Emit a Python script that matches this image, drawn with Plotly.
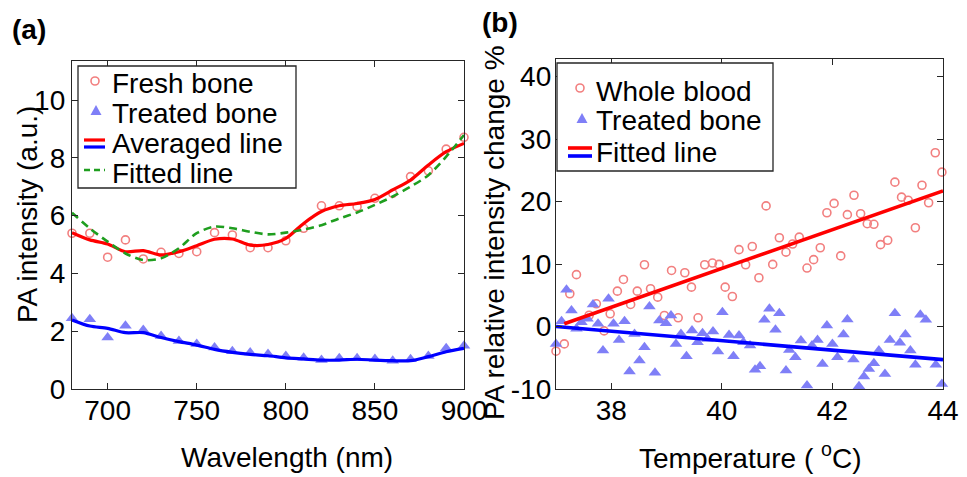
import plotly.graph_objects as go

# ---------------- Data: panel (a) ----------------
wavelength = [680, 690, 700, 710, 720, 730, 740, 750, 760, 770, 780, 790,
              800, 810, 820, 830, 840, 850, 860, 870, 880, 890, 900]
fresh_bone = [5.39, 5.39, 4.56, 5.16, 4.50, 4.73, 4.69, 4.75, 5.41, 5.33, 4.89, 4.89,
              5.13, 5.56, 6.34, 6.34, 6.31, 6.60, 6.77, 7.35, 7.55, 8.30, 8.71]
treated_bone_a = [2.45, 2.41, 1.78, 2.19, 2.04, 1.83, 1.66, 1.56, 1.44, 1.31, 1.26, 1.21,
                  1.14, 1.08, 1.00, 1.06, 1.06, 1.04, 0.98, 1.03, 1.14, 1.41, 1.50]
averaged_fresh = [5.41, 5.16, 5.02, 4.75, 4.79, 4.64, 4.75, 4.96, 5.18, 5.19, 4.98, 5.00,
                  5.21, 5.73, 6.14, 6.34, 6.42, 6.56, 6.89, 7.23, 7.75, 8.21, 8.50]
averaged_treated = [2.39, 2.18, 2.10, 1.95, 1.95, 1.78, 1.64, 1.52, 1.37, 1.27, 1.20, 1.15,
                    1.08, 1.04, 1.00, 1.00, 1.03, 1.00, 0.98, 0.98, 1.12, 1.29, 1.41]
fitted_fresh = [6.10, 5.56, 5.10, 4.69, 4.46, 4.52, 4.87, 5.39, 5.62, 5.56, 5.44, 5.35,
                5.41, 5.52, 5.67, 5.90, 6.11, 6.37, 6.66, 7.00, 7.40, 8.04, 8.79]
x_ticks_a = [700, 750, 800, 850, 900]
y_ticks_a = [0, 2, 4, 6, 8, 10]

# ---------------- Data: panel (b) ----------------
blood_temp = [37.00, 37.15, 37.25, 37.37, 37.60, 37.73, 37.87, 37.98, 38.11, 38.22,
              38.35, 38.47, 38.60, 38.71, 38.84, 38.96, 39.09, 39.21, 39.33, 39.45,
              39.57, 39.69, 39.83, 39.95, 40.06, 40.19, 40.31, 40.43, 40.55, 40.67,
              40.80, 40.92, 41.04, 41.16, 41.28, 41.40, 41.54, 41.66, 41.78, 41.90,
              42.03, 42.15, 42.27, 42.39, 42.51, 42.63, 42.75, 42.87, 43.00, 43.13,
              43.25, 43.37, 43.50, 43.62, 43.74, 43.86, 43.98]
blood_change = [-3.95, -2.78, 5.24, 8.30, 1.80, 3.63, -0.70, 2.03, 5.66, 7.53,
                3.53, 5.66, 9.88, 6.04, 4.70, 1.76, 8.97, 1.39, 8.60, 6.30,
                1.39, 9.88, 10.15, 9.94, 6.30, 4.80, 12.30, 9.88, 12.80, 7.80,
                19.30, 9.94, 14.20, 11.90, 13.20, 14.30, 9.35, 10.70, 12.60, 18.20,
                19.70, 11.30, 17.90, 21.00, 18.05, 16.45, 16.35, 13.10, 13.80, 23.10,
                20.70, 20.20, 15.80, 22.60, 19.80, 27.80, 24.70]
bone_temp = [37.00, 37.10, 37.19, 37.28, 37.37, 37.46, 37.57, 37.67, 37.76, 37.85,
             37.95, 38.04, 38.14, 38.24, 38.33, 38.42, 38.51, 38.60, 38.69, 38.79,
             38.87, 38.99, 39.08, 39.17, 39.26, 39.36, 39.46, 39.56, 39.65, 39.74,
             39.84, 39.93, 40.01, 40.13, 40.21, 40.31, 40.39, 40.51, 40.60, 40.69,
             40.77, 40.86, 40.97, 41.04, 41.16, 41.22, 41.33, 41.43, 41.54, 41.63,
             41.73, 41.82, 41.90, 42.00, 42.09, 42.20, 42.27, 42.38, 42.48, 42.57,
             42.66, 42.75, 42.84, 42.95, 43.04, 43.13, 43.22, 43.32, 43.41, 43.50,
             43.59, 43.69, 43.87, 43.98]
bone_change = [-2.78, 0.85, 5.90, 2.56, -0.37, 0.69, 1.23, 3.53, 0.43, -3.85,
               4.43, 0.43, -2.14, 0.85, -7.20, -1.18, -5.45, -3.30, 3.20, -7.40,
               0.96, 0.53, 1.76, -2.78, -1.18, -4.75, -0.64, -2.50, -1.07, -1.98,
               -0.80, -4.00, 2.30, -1.34, -4.75, -1.44, -2.50, -3.04, -6.90, -6.36,
               1.07, 2.83, -0.53, 2.14, -7.05, -3.74, -4.90, -2.24, -9.45, -3.04,
               -2.14, -5.98, 0.16, -2.78, -4.90, -1.28, 1.12, -5.29, -9.56, -8.00,
               -6.78, -5.88, -3.85, -7.60, -2.14, 2.14, -2.60, -1.28, -3.85, -6.10,
               1.87, 1.07, -6.10, -9.20]
fit_blood_temp = [37.15, 44.0]
fit_blood_change = [0.45, 21.7]
fit_bone_temp = [37.0, 44.0]
fit_bone_change = [0.0, -5.3]
x_ticks_b = [38, 40, 42, 44]
y_ticks_b = [-10, 0, 10, 20, 30, 40]
y_ticklabels_b = ["-10", "0", "10", "20", "30", "40"]

# ---------------- Styles ----------------
W, H = 967, 477
FONT = "Liberation Sans, Arial, sans-serif"
FS = 28
C_CIRCLE = "#f27f7f"
C_TRI = "#7f7ff7"
C_RED = "#ff0000"
C_BLUE = "#0000ff"
C_GREEN = "#1f9e1f"
AX = "#262626"


def px(x):
    return x / W


def py(y):
    return 1 - y / H


fig = go.Figure()

# panel (a)
fig.add_trace(go.Scatter(x=wavelength, y=fresh_bone, mode="markers", name="Fresh bone",
                         marker=dict(symbol="circle-open", size=8, color=C_CIRCLE,
                                     line=dict(width=1.6, color=C_CIRCLE)),
                         cliponaxis=False, xaxis="x", yaxis="y"))
fig.add_trace(go.Scatter(x=wavelength, y=treated_bone_a, mode="markers", name="Treated bone",
                         marker=dict(symbol="triangle-up", size=11, color=C_TRI),
                         cliponaxis=False, xaxis="x", yaxis="y"))
fig.add_trace(go.Scatter(x=wavelength, y=averaged_fresh, mode="lines", name="Averaged line",
                         line=dict(color=C_RED, width=3.2, shape="spline", smoothing=0.8),
                         xaxis="x", yaxis="y"))
fig.add_trace(go.Scatter(x=wavelength, y=averaged_treated, mode="lines", name="Averaged line",
                         line=dict(color=C_BLUE, width=3.2, shape="spline", smoothing=0.8),
                         xaxis="x", yaxis="y"))
fig.add_trace(go.Scatter(x=wavelength, y=fitted_fresh, mode="lines", name="Fitted line",
                         line=dict(color=C_GREEN, width=2.6, dash="8px,5px", shape="spline",
                                   smoothing=0.8),
                         xaxis="x", yaxis="y"))

# panel (b)
fig.add_trace(go.Scatter(x=blood_temp, y=blood_change, mode="markers", name="Whole blood",
                         marker=dict(symbol="circle-open", size=8, color=C_CIRCLE,
                                     line=dict(width=1.6, color=C_CIRCLE)),
                         cliponaxis=False, xaxis="x2", yaxis="y2"))
fig.add_trace(go.Scatter(x=bone_temp, y=bone_change, mode="markers", name="Treated bone",
                         marker=dict(symbol="triangle-up", size=11, color=C_TRI),
                         cliponaxis=False, xaxis="x2", yaxis="y2"))
fig.add_trace(go.Scatter(x=fit_blood_temp, y=fit_blood_change, mode="lines", name="Fitted line",
                         line=dict(color=C_RED, width=3.6), xaxis="x2", yaxis="y2"))
fig.add_trace(go.Scatter(x=fit_bone_temp, y=fit_bone_change, mode="lines", name="Fitted line",
                         line=dict(color=C_BLUE, width=3.6), xaxis="x2", yaxis="y2"))

axis_common = dict(showgrid=False, zeroline=False, showline=True, linecolor=AX, linewidth=1.3,
                   mirror="ticks", ticks="inside", ticklen=6, tickwidth=1.2, tickcolor=AX,
                   tickfont=dict(family=FONT, size=FS, color="black"))

fig.update_layout(
    width=W, height=H,
    margin=dict(l=0, r=0, t=0, b=0, autoexpand=False),
    paper_bgcolor="white", plot_bgcolor="white",
    showlegend=False,
    xaxis=dict(domain=[px(72), px(464)], range=[680, 900], tickvals=x_ticks_a,
               anchor="y", ticklabelstandoff=-4, **axis_common),
    yaxis=dict(domain=[py(389), py(61)], range=[0, 11.35], tickvals=y_ticks_a,
               anchor="x", **axis_common),
    xaxis2=dict(domain=[px(556), px(943)], range=[37, 44], tickvals=x_ticks_b,
                anchor="y2", ticklabelstandoff=-4, **axis_common),
    yaxis2=dict(domain=[py(389), py(59)], range=[-10, 42.8], tickvals=y_ticks_b,
                ticktext=y_ticklabels_b, anchor="x2", ticklabelstandoff=-2, **axis_common),
)

shapes = []
annotations = []


def text(x, y, s, size=FS, bold=False, angle=0, xanchor="center"):
    annotations.append(dict(xref="paper", yref="paper", x=px(x), y=py(y), text=s,
                            showarrow=False, textangle=angle, xanchor=xanchor,
                            yanchor="middle",
                            font=dict(family=FONT, size=size, color="black",
                                      weight="bold" if bold else "normal")))


def hline(x0, x1, y, color, width, dash="solid"):
    shapes.append(dict(type="line", xref="paper", yref="paper", x0=px(x0), x1=px(x1),
                       y0=py(y), y1=py(y), line=dict(color=color, width=width, dash=dash)))


def circle(cx, cy, r, color):
    shapes.append(dict(type="circle", xref="paper", yref="paper", x0=px(cx - r), x1=px(cx + r),
                       y0=py(cy + r), y1=py(cy - r), line=dict(color=color, width=1.6)))


def triangle(cx, cy, s, color):
    h = s * 0.9
    path = "M {:.5f},{:.5f} L {:.5f},{:.5f} L {:.5f},{:.5f} Z".format(
        px(cx - s / 2), py(cy + h / 2), px(cx + s / 2), py(cy + h / 2), px(cx), py(cy - h / 2))
    shapes.append(dict(type="path", xref="paper", yref="paper", path=path,
                       fillcolor=color, line=dict(width=0)))


def box(x0, y0, x1, y1):
    shapes.append(dict(type="rect", xref="paper", yref="paper", x0=px(x0), x1=px(x1),
                       y0=py(y1), y1=py(y0), fillcolor="white",
                       line=dict(color=AX, width=1.3)))


# legend (a)
box(78, 66, 296, 188)
circle(95, 81, 4, C_CIRCLE)
triangle(96, 110, 11, C_TRI)
hline(84, 105, 140, C_RED, 3.2)
hline(84, 105, 147, C_BLUE, 3.2)
hline(84, 105, 170, C_GREEN, 2.6, "6px,4px")
text(110, 84, "Fresh bone", xanchor="left")
text(110, 114, "Treated bone", xanchor="left")
text(110, 144, "Averaged line", xanchor="left")
text(110, 174, "Fitted line", xanchor="left")

# legend (b)
box(557, 63, 773, 171)
circle(580, 88, 4, C_CIRCLE)
triangle(582, 118, 11, C_TRI)
hline(568, 592, 148, C_RED, 3.6)
hline(568, 592, 156, C_BLUE, 3.6)
text(594, 91, "Whole blood", xanchor="left")
text(594, 121, "Treated bone", xanchor="left")
text(594, 152, "Fitted line", xanchor="left")

# axis titles and panel labels
text(287, 457, "Wavelength (nm)")
text(750, 456, "Temperature ( <sup>o</sup>C)")
text(27, 215, "PA intensity (a.u.)", angle=-90)
text(495, 233, "PA relative intensity change %", angle=-90)
text(29, 30, "(a)", bold=True)
text(500, 23, "(b)", bold=True)

fig.update_layout(shapes=shapes, annotations=annotations)
fig.write_html("out.html", config={"displayModeBar": False},
               post_script="document.body.style.margin='0';document.body.style.overflow='hidden';")
